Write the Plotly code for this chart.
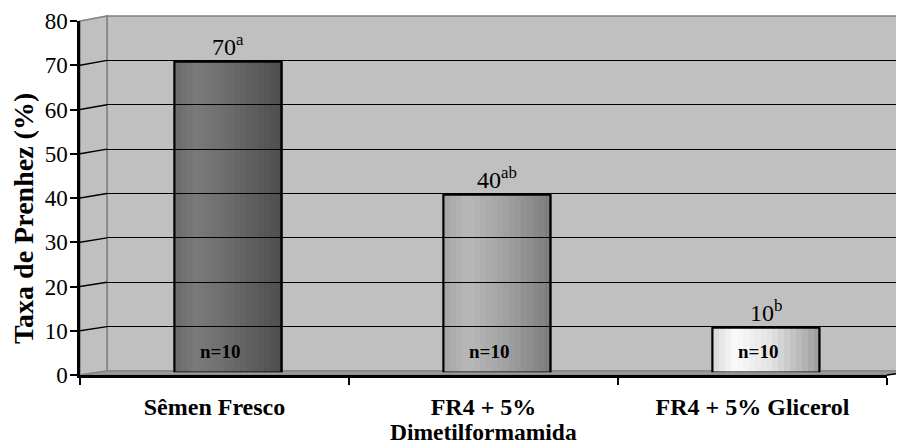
import plotly.graph_objects as go

# ---------------- data ----------------
categories = ["Sêmen Fresco", "FR4 + 5% Dimetilformamida", "FR4 + 5% Glicerol"]
tick_labels = ["Sêmen Fresco", "FR4 + 5%", "FR4 + 5% Glicerol"]
tick_label_second_line = ["", "Dimetilformamida", ""]
pregnancy_rate = [70, 40, 10]
value_labels = ["70<sup>a</sup>", "40<sup>ab</sup>", "10<sup>b</sup>"]
n_labels = ["n=10", "n=10", "n=10"]
y_ticks = [0, 10, 20, 30, 40, 50, 60, 70, 80]
y_title = "Taxa de Prenhez (%)"

# ---------------- style ----------------
W, H = 904, 444
OFF = 8          # page body margin of the browser
FONT = "Liberation Serif"
# cylinder shading profiles (position across bar -> grey level)
shade_stops = [
    [(0.0, 0x6a), (0.2, 0x7a), (0.5, 0x6c), (1.0, 0x4e)],
    [(0.0, 0xa6), (0.22, 0xb8), (0.6, 0xa0), (1.0, 0x7c)],
    [(0.0, 0xd8), (0.2, 0xfa), (0.55, 0xe2), (1.0, 0x9c)],
]
N_STRIPS = 18
BAR_W = 0.40


def px(x):
    return (x - OFF) / W


def py(y):
    return 1 - (y - OFF) / H


def shade(stops, t):
    for (t0, g0), (t1, g1) in zip(stops[:-1], stops[1:]):
        if t0 <= t <= t1:
            g = g0 + (g1 - g0) * (t - t0) / (t1 - t0)
            g = int(round(g))
            return f"rgb({g},{g},{g})"
    g = stops[-1][1]
    return f"rgb({g},{g},{g})"


# frame geometry (window pixels)
FX0, FX1, FY0, FY80 = 80, 887, 375, 21       # front frame
BX0, BY0, BY80 = 107, 371, 16                 # back wall
DX = BX0 - FX0

fig = go.Figure()

# invisible anchor traces for front and back axes
fig.add_trace(go.Scatter(x=categories, y=pregnancy_rate, mode="markers",
                         marker=dict(opacity=0), hoverinfo="skip",
                         xaxis="x", yaxis="y", showlegend=False))
fig.add_trace(go.Scatter(x=categories, y=pregnancy_rate, mode="markers",
                         marker=dict(opacity=0), hoverinfo="skip",
                         xaxis="x3", yaxis="y3", showlegend=False))

# shaded cylinder bars made of narrow strips
for k in range(N_STRIPS):
    t = (k + 0.5) / N_STRIPS
    colors = [shade(s, t) for s in shade_stops]
    fig.add_trace(go.Bar(
        x=categories, y=pregnancy_rate,
        width=BAR_W / N_STRIPS + 0.002,
        offset=-BAR_W / 2 + k * BAR_W / N_STRIPS,
        marker=dict(color=colors, line=dict(width=0)),
        xaxis="x2", yaxis="y2", showlegend=False, hoverinfo="skip",
    ))
# outline
fig.add_trace(go.Bar(
    x=categories, y=pregnancy_rate, width=BAR_W, offset=-BAR_W / 2,
    marker=dict(color="rgba(0,0,0,0)", line=dict(color="black", width=2.2)),
    xaxis="x2", yaxis="y2", showlegend=False, hoverinfo="skip",
))

# ---------------- walls (decoration) ----------------
shapes = []
grey_edge = "#808080"
shapes.append(dict(type="rect", xref="paper", yref="paper",
                   x0=px(BX0), x1=px(W + 20), y0=py(BY0), y1=py(BY80),
                   fillcolor="#c0c0c0", line=dict(color=grey_edge, width=1.5),
                   layer="below"))
shapes.append(dict(type="path", xref="paper", yref="paper",
                   path=f"M {px(FX0)} {py(FY80)} L {px(BX0)} {py(BY80)} "
                        f"L {px(BX0)} {py(BY0)} L {px(FX0)} {py(FY0)} Z",
                   fillcolor="#c0c0c0", line=dict(color=grey_edge, width=1.5),
                   layer="below"))
shapes.append(dict(type="path", xref="paper", yref="paper",
                   path=f"M {px(FX0)} {py(FY0)} L {px(BX0)} {py(BY0)} "
                        f"L {px(FX1 + DX)} {py(BY0)} L {px(FX1)} {py(FY0)} Z",
                   fillcolor="#9a9a9a", line=dict(color=grey_edge, width=1),
                   layer="below"))
for v in y_ticks[1:-1]:
    yf = FY0 - v * (FY0 - FY80) / 80
    yb = BY0 - v * (BY0 - BY80) / 80
    shapes.append(dict(type="line", xref="paper", yref="paper",
                       x0=px(FX0), y0=py(yf), x1=px(BX0), y1=py(yb),
                       line=dict(color="black", width=1.3), layer="below"))
shapes.append(dict(type="line", xref="paper", yref="paper",
                   x0=px(FX1), y0=py(FY0), x1=px(FX1 + DX), y1=py(BY0),
                   line=dict(color="black", width=1.5), layer="below"))

# ---------------- annotations ----------------
annotations = []
for c, v, lab in zip(categories, pregnancy_rate, value_labels):
    annotations.append(dict(x=c, y=v, xref="x2", yref="y2", text=lab,
                            showarrow=False, yanchor="bottom", yshift=0,
                            font=dict(family=FONT, size=24, color="black")))
for c, lab in zip(categories, n_labels):
    annotations.append(dict(x=c, y=0, xref="x2", yref="y2", text=f"<b>{lab}</b>",
                            showarrow=False, yanchor="bottom", yshift=8, xshift=-8,
                            font=dict(family=FONT, size=19, color="black")))
for c, lab in zip(categories, tick_label_second_line):
    if lab:
        annotations.append(dict(x=c, y=py(432), xref="x", yref="paper",
                                text=f"<b>{lab}</b>", showarrow=False,
                                yanchor="middle",
                                font=dict(family=FONT, size=23.5, color="black")))
annotations.append(dict(x=px(24), y=py(219), xref="paper", yref="paper",
                        text=f"<b>{y_title}</b>", textangle=-90, showarrow=False,
                        xanchor="center", yanchor="middle",
                        font=dict(family=FONT, size=28, color="black")))

fig.update_layout(
    width=W, height=H,
    margin=dict(l=0, r=0, t=0, b=0, autoexpand=False),
    paper_bgcolor="white", plot_bgcolor="rgba(0,0,0,0)",
    barmode="overlay", bargap=0,
    showlegend=False,
    shapes=shapes, annotations=annotations,
    font=dict(family=FONT, color="black"),
    xaxis=dict(domain=[px(FX0), px(FX1)], anchor="y", type="category",
               range=[-0.5, 2.5], tickson="boundaries", automargin=False,
               tickvals=categories, ticktext=tick_labels,
               showline=True, linecolor="black", linewidth=2.5,
               ticks="outside", ticklen=7, tickwidth=2, tickcolor="black",
               showgrid=False, zeroline=False, ticklabelstandoff=8,
               tickfont=dict(family=FONT, size=24, weight="bold", color="black")),
    yaxis=dict(domain=[py(FY0), py(FY80)], anchor="x", range=[0, 80],
               tickvals=y_ticks, showline=True, linecolor="black", linewidth=2.5,
               ticks="outside", ticklen=7, tickwidth=2, tickcolor="black",
               showgrid=False, zeroline=False, automargin=False,
               ticklabelstandoff=-2,
               tickfont=dict(family=FONT, size=23, color="black")),
    xaxis2=dict(domain=[px(FX0 + DX / 2), px(FX1 + DX / 2)], anchor="y2",
                type="category", range=[-0.5, 2.5], visible=False),
    yaxis2=dict(domain=[py(372.3), py(17.7)], anchor="x2", range=[0, 80], visible=False),
    xaxis3=dict(domain=[px(BX0), 1], anchor="y3", type="category",
                range=[-0.5, 2.5], showticklabels=False, showgrid=False,
                showline=False, zeroline=False, ticks="", automargin=False),
    yaxis3=dict(domain=[py(BY0), py(BY80)], anchor="x3", range=[0, 80],
                tickvals=y_ticks[1:-1], showgrid=True, gridcolor="black",
                gridwidth=1.3, showticklabels=False, showline=False,
                zeroline=False, ticks="", automargin=False),
)

fig.write_html("out.html")
